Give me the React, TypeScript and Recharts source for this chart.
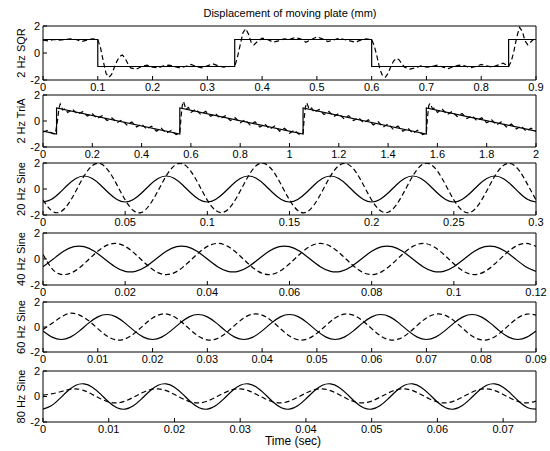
import React from 'react';
import { LineChart, Line, XAxis, YAxis } from 'recharts';

const FONT = '"Liberation Sans", Arial, Helvetica, sans-serif';

// ---------- tick labels ----------
const yTicks = [-2, 0, 2];
const sqrTicks = [0, 0.1, 0.2, 0.3, 0.4, 0.5, 0.6, 0.7, 0.8, 0.9];
const triTicks = [0, 0.2, 0.4, 0.6, 0.8, 1, 1.2, 1.4, 1.6, 1.8, 2];
const s20Ticks = [0, 0.05, 0.1, 0.15, 0.2, 0.25, 0.3];
const s40Ticks = [0, 0.02, 0.04, 0.06, 0.08, 0.1, 0.12];
const s60Ticks = [0, 0.01, 0.02, 0.03, 0.04, 0.05, 0.06, 0.07, 0.08, 0.09];
const s80Ticks = [0, 0.01, 0.02, 0.03, 0.04, 0.05, 0.06, 0.07];

// ---------- 2 Hz square ----------
const sqrRefT = [0, 0.1, 0.1, 0.35, 0.35, 0.6, 0.6, 0.85, 0.85, 0.9];
const sqrRef = [1, 1, -1, -1, 1, 1, -1, -1, 1, 1];
const sqrMeasT = [
  0, 0.01, 0.02, 0.03, 0.04, 0.05, 0.06, 0.07, 0.08, 0.09, 0.1,
  0.105, 0.11, 0.115, 0.12, 0.125, 0.13, 0.135, 0.14, 0.145, 0.15, 0.155,
  0.16, 0.17, 0.18, 0.19, 0.2, 0.21, 0.22, 0.23, 0.24, 0.25, 0.26, 0.27, 0.28, 0.29, 0.3, 0.31, 0.32, 0.33, 0.34, 0.35,
  0.355, 0.36, 0.365, 0.37, 0.375, 0.38, 0.385,
  0.39, 0.4, 0.41, 0.42, 0.43, 0.44, 0.45, 0.46, 0.47, 0.48, 0.49, 0.5, 0.51, 0.52, 0.53, 0.54, 0.55, 0.56, 0.57, 0.58, 0.59, 0.6,
  0.605, 0.61, 0.615, 0.62, 0.625, 0.63, 0.635, 0.64, 0.645, 0.65, 0.655,
  0.66, 0.67, 0.68, 0.69, 0.7, 0.71, 0.72, 0.73, 0.74, 0.75, 0.76, 0.77, 0.78, 0.79, 0.8, 0.81, 0.82, 0.83, 0.84, 0.85,
  0.855, 0.86, 0.865, 0.87, 0.875, 0.88, 0.885, 0.89, 0.895, 0.9,
];
const sqrMeas = [
  0.95, 0.9, 1.0, 0.95, 1.0, 1.05, 1.0, 0.85, 0.95, 1.05, 1.0,
  0.4, -0.6, -1.5, -1.8, -1.6, -1.1, -0.6, -0.25, -0.15, -0.4, -0.8,
  -1.1, -1.2, -1.0, -0.9, -1.05, -1.1, -0.95, -0.9, -1.0, -1.1, -1.0, -0.85, -1.0, -1.1, -0.95, -0.8, -0.95, -1.05, -1.0, -1.0,
  -0.3, 0.6, 1.5, 1.8, 1.4, 0.8, 0.6,
  0.8, 1.1, 1.0, 0.8, 0.9, 1.05, 1.0, 1.15, 1.05, 0.8, 1.0, 1.2, 1.05, 0.85, 0.95, 1.1, 1.0, 0.9, 0.8, 0.95, 1.05, 1.0,
  0.5, -0.3, -1.2, -1.7, -1.8, -1.5, -1.0, -0.6, -0.4, -0.5, -0.8,
  -1.05, -1.2, -1.1, -0.95, -1.05, -1.0, -0.9, -1.05, -1.15, -1.0, -0.9, -0.95, -1.1, -1.0, -0.85, -0.95, -1.05, -0.9, -0.75, -1.0,
  -0.6, 0.2, 1.2, 1.9, 1.6, 0.9, 0.6, 0.8, 1.0, 0.9,
];

// ---------- 2 Hz triangle (sawtooth) ----------
const triRefT = [0, 0.055, 0.055, 0.555, 0.555, 1.055, 1.055, 1.555, 1.555, 2];
const triRef = [-0.78, -1, 1, -1, 1, -1, 1, -1, 1, -0.78];
const triMeasT = [
  0, 0.02, 0.04, 0.05, 0.06, 0.065, 0.07, 0.08, 0.09,
  0.1, 0.12, 0.14, 0.16, 0.18, 0.2, 0.22, 0.24, 0.26, 0.28, 0.3, 0.32, 0.34, 0.36, 0.38, 0.4, 0.42, 0.44, 0.46, 0.48, 0.5, 0.52, 0.54,
  0.555, 0.56, 0.565, 0.57, 0.58, 0.59,
  0.6, 0.62, 0.64, 0.66, 0.68, 0.7, 0.72, 0.74, 0.76, 0.78, 0.8, 0.82, 0.84, 0.86, 0.88, 0.9, 0.92, 0.94, 0.96, 0.98, 1.0, 1.02, 1.04,
  1.055, 1.06, 1.065, 1.07, 1.08, 1.09,
  1.1, 1.12, 1.14, 1.16, 1.18, 1.2, 1.22, 1.24, 1.26, 1.28, 1.3, 1.32, 1.34, 1.36, 1.38, 1.4, 1.42, 1.44, 1.46, 1.48, 1.5, 1.52, 1.54,
  1.555, 1.56, 1.565, 1.57, 1.58, 1.59,
  1.6, 1.62, 1.64, 1.66, 1.68, 1.7, 1.72, 1.74, 1.76, 1.78, 1.8, 1.82, 1.84, 1.86, 1.88, 1.9, 1.92, 1.94, 1.96, 1.98, 2.0,
];
const triMeas = [
  -0.85, -0.72, -0.98, -1.0, 0.2, 1.0, 1.3, 0.85, 0.95,
  0.66, 0.9, 0.52, 0.72, 0.38, 0.56, 0.2, 0.4, 0.04, 0.24, -0.13, 0.08, -0.3, -0.07, -0.46, -0.24, -0.62, -0.4, -0.78, -0.56, -0.93, -0.72, -1.04,
  -0.95, 0.3, 1.2, 1.5, 0.9, 1.05,
  0.66, 0.9, 0.5, 0.74, 0.36, 0.57, 0.19, 0.41, 0.03, 0.25, -0.14, 0.09, -0.3, -0.06, -0.46, -0.23, -0.63, -0.39, -0.78, -0.56, -0.94, -0.71, -1.04,
  -0.95, 0.3, 1.1, 1.4, 0.9, 1.0,
  0.66, 0.89, 0.5, 0.73, 0.35, 0.57, 0.19, 0.41, 0.03, 0.25, -0.13, 0.09, -0.3, -0.06, -0.47, -0.23, -0.62, -0.39, -0.79, -0.55, -0.94, -0.71, -1.04,
  -0.95, 0.3, 1.2, 1.35, 0.95, 1.0,
  0.66, 0.9, 0.5, 0.73, 0.35, 0.57, 0.19, 0.41, 0.03, 0.25, -0.14, 0.09, -0.3, -0.06, -0.46, -0.23, -0.62, -0.39, -0.78, -0.56, -0.8,
];

// ---------- 20 Hz sine ----------
const s20T = [
  0, 0.005, 0.01, 0.015, 0.02, 0.025, 0.03, 0.035, 0.04, 0.045,
  0.05, 0.055, 0.06, 0.065, 0.07, 0.075, 0.08, 0.085, 0.09, 0.095,
  0.1, 0.105, 0.11, 0.115, 0.12, 0.125, 0.13, 0.135, 0.14, 0.145,
  0.15, 0.155, 0.16, 0.165, 0.17, 0.175, 0.18, 0.185, 0.19, 0.195,
  0.2, 0.205, 0.21, 0.215, 0.22, 0.225, 0.23, 0.235, 0.24, 0.245,
  0.25, 0.255, 0.26, 0.265, 0.27, 0.275, 0.28, 0.285, 0.29, 0.295, 0.3,
];
const s20Ref = [
  -1, -0.81, -0.31, 0.31, 0.81, 1, 0.81, 0.31, -0.31, -0.81,
  -1, -0.81, -0.31, 0.31, 0.81, 1, 0.81, 0.31, -0.31, -0.81,
  -1, -0.81, -0.31, 0.31, 0.81, 1, 0.81, 0.31, -0.31, -0.81,
  -1, -0.81, -0.31, 0.31, 0.81, 1, 0.81, 0.31, -0.31, -0.81,
  -1, -0.81, -0.31, 0.31, 0.81, 1, 0.81, 0.31, -0.31, -0.81,
  -1, -0.81, -0.31, 0.31, 0.81, 1, 0.81, 0.31, -0.31, -0.81, -1,
];
const s20Meas = [
  -0.84, -1.64, -1.79, -1.22, -0.16, 1.0, 1.8, 1.95, 1.38, 0.32,
  -0.84, -1.66, -1.8, -1.2, -0.14, 1.02, 1.8, 1.94, 1.36, 0.3,
  -0.86, -1.64, -1.78, -1.22, -0.16, 1.0, 1.82, 1.95, 1.38, 0.32,
  -0.84, -1.65, -1.8, -1.21, -0.15, 1.01, 1.8, 1.93, 1.37, 0.31,
  -0.85, -1.64, -1.79, -1.22, -0.16, 1.0, 1.81, 1.95, 1.38, 0.32,
  -0.84, -1.64, -1.8, -1.22, -0.15, 1.0, 1.8, 1.94, 1.38, 0.32, -0.84,
];

// ---------- 40 Hz sine ----------
const s40T = [
  0, 0.0025, 0.005, 0.0075, 0.01, 0.0125, 0.015, 0.0175, 0.02, 0.0225,
  0.025, 0.0275, 0.03, 0.0325, 0.035, 0.0375, 0.04, 0.0425, 0.045, 0.0475,
  0.05, 0.0525, 0.055, 0.0575, 0.06, 0.0625, 0.065, 0.0675, 0.07, 0.0725,
  0.075, 0.0775, 0.08, 0.0825, 0.085, 0.0875, 0.09, 0.0925, 0.095, 0.0975,
  0.1, 0.1025, 0.105, 0.1075, 0.11, 0.1125, 0.115, 0.1175, 0.12,
];
const s40Ref = [
  -0.59, 0, 0.59, 0.95, 0.95, 0.59, 0, -0.59, -0.95, -0.95,
  -0.59, 0, 0.59, 0.95, 0.95, 0.59, 0, -0.59, -0.95, -0.95,
  -0.59, 0, 0.59, 0.95, 0.95, 0.59, 0, -0.59, -0.95, -0.95,
  -0.59, 0, 0.59, 0.95, 0.95, 0.59, 0, -0.59, -0.95, -0.95,
  -0.59, 0, 0.59, 0.95, 0.95, 0.59, 0, -0.59, -0.95,
];
const s40Meas = [
  0.35, -0.85, -1.2, -0.97, -0.37, 0.37, 0.97, 1.2, 0.97, 0.37,
  -0.37, -0.97, -1.2, -0.97, -0.37, 0.37, 0.97, 1.2, 0.97, 0.37,
  -0.37, -0.97, -1.2, -0.97, -0.37, 0.37, 0.97, 1.2, 0.97, 0.37,
  -0.37, -0.97, -1.2, -0.97, -0.37, 0.37, 0.97, 1.2, 0.97, 0.37,
  -0.37, -0.97, -1.2, -0.97, -0.37, 0.37, 0.97, 1.2, 0.97,
];

// ---------- 60 Hz sine ----------
const s60T = [
  0, 0.00167, 0.00333, 0.005, 0.00667, 0.00833, 0.01, 0.01167, 0.01333, 0.015,
  0.01667, 0.01833, 0.02, 0.02167, 0.02333, 0.025, 0.02667, 0.02833, 0.03, 0.03167,
  0.03333, 0.035, 0.03667, 0.03833, 0.04, 0.04167, 0.04333, 0.045, 0.04667, 0.04833,
  0.05, 0.05167, 0.05333, 0.055, 0.05667, 0.05833, 0.06, 0.06167, 0.06333, 0.065,
  0.06667, 0.06833, 0.07, 0.07167, 0.07333, 0.075, 0.07667, 0.07833, 0.08, 0.08167,
  0.08333, 0.085, 0.08667, 0.08833, 0.09,
];
const s60Ref = [
  -0.31, -0.81, -1, -0.81, -0.31, 0.31, 0.81, 1, 0.81, 0.31,
  -0.31, -0.81, -1, -0.81, -0.31, 0.31, 0.81, 1, 0.81, 0.31,
  -0.31, -0.81, -1, -0.81, -0.31, 0.31, 0.81, 1, 0.81, 0.31,
  -0.31, -0.81, -1, -0.81, -0.31, 0.31, 0.81, 1, 0.81, 0.31,
  -0.31, -0.81, -1, -0.81, -0.31, 0.31, 0.81, 1, 0.81, 0.31,
  -0.31, -0.81, -1, -0.81, -0.31,
];
const s60Meas = [
  -0.2, 0.3, 0.8, 1.1, 0.95, 0.51, -0.13, -0.72, -1.03, -0.95,
  -0.51, 0.13, 0.72, 1.03, 0.95, 0.51, -0.13, -0.72, -1.03, -0.95,
  -0.51, 0.13, 0.72, 1.03, 0.95, 0.51, -0.13, -0.72, -1.03, -0.95,
  -0.51, 0.13, 0.72, 1.03, 0.95, 0.51, -0.13, -0.72, -1.03, -0.95,
  -0.51, 0.13, 0.72, 1.03, 0.95, 0.51, -0.13, -0.72, -1.03, -0.95,
  -0.51, 0.13, 0.72, 1.03, 0.95,
];

// ---------- 80 Hz sine ----------
const s80T = [
  0, 0.00125, 0.0025, 0.00375, 0.005, 0.00625, 0.0075, 0.00875, 0.01, 0.01125,
  0.0125, 0.01375, 0.015, 0.01625, 0.0175, 0.01875, 0.02, 0.02125, 0.0225, 0.02375,
  0.025, 0.02625, 0.0275, 0.02875, 0.03, 0.03125, 0.0325, 0.03375, 0.035, 0.03625,
  0.0375, 0.03875, 0.04, 0.04125, 0.0425, 0.04375, 0.045, 0.04625, 0.0475, 0.04875,
  0.05, 0.05125, 0.0525, 0.05375, 0.055, 0.05625, 0.0575, 0.05875, 0.06, 0.06125,
  0.0625, 0.06375, 0.065, 0.06625, 0.0675, 0.06875, 0.07, 0.07125, 0.0725, 0.07375, 0.075,
];
const s80Ref = [
  -0.99, -0.73, -0.19, 0.43, 0.88, 0.99, 0.73, 0.19, -0.43, -0.88,
  -0.99, -0.73, -0.19, 0.43, 0.88, 0.99, 0.73, 0.19, -0.43, -0.88,
  -0.99, -0.73, -0.19, 0.43, 0.88, 0.99, 0.73, 0.19, -0.43, -0.88,
  -0.99, -0.73, -0.19, 0.43, 0.88, 0.99, 0.73, 0.19, -0.43, -0.88,
  -0.99, -0.73, -0.19, 0.43, 0.88, 0.99, 0.73, 0.19, -0.43, -0.88,
  -0.99, -0.73, -0.19, 0.43, 0.88, 0.99, 0.73, 0.19, -0.43, -0.88, -0.99,
];
const s80Meas = [
  0.1, 0.2, 0.35, 0.53, 0.6, 0.46, 0.16, -0.17, -0.43, -0.5,
  -0.36, -0.06, 0.27, 0.53, 0.6, 0.46, 0.16, -0.17, -0.43, -0.5,
  -0.36, -0.06, 0.27, 0.53, 0.6, 0.46, 0.16, -0.17, -0.43, -0.5,
  -0.36, -0.06, 0.27, 0.53, 0.6, 0.46, 0.16, -0.17, -0.43, -0.5,
  -0.36, -0.06, 0.27, 0.53, 0.6, 0.46, 0.16, -0.17, -0.43, -0.5,
  -0.36, -0.06, 0.27, 0.53, 0.6, 0.46, 0.16, -0.17, -0.43, -0.5, -0.36,
];

const zip = (ts: number[], vs: number[]) => ts.map((t, i) => ({ t, v: vs[i] }));

const MT = 10;
const XH = 18;
const W = 550;
const YW = 43;
const MR = 14;

type PanelProps = {
  top: number;
  h: number;
  xMax: number;
  xTicks: number[];
  refPts: { t: number; v: number }[];
  measPts: { t: number; v: number }[];
  smooth: boolean;
};

function Panel({ top, h, xMax, xTicks, refPts, measPts, smooth }: PanelProps) {
  const H = MT + h + XH;
  const tickStyle = { fill: '#000', fontSize: 11, fontFamily: FONT };
  const curve = smooth ? 'natural' : 'linear';
  return (
    <div style={{ position: 'absolute', left: 0, top: top - MT, width: W, height: H }}>
      <LineChart width={W} height={H} margin={{ top: MT, right: MR, bottom: 0, left: 0 }}>
        <XAxis
          xAxisId="b"
          type="number"
          dataKey="t"
          domain={[0, xMax]}
          ticks={xTicks}
          interval={0}
          allowDataOverflow
          height={XH}
          tickSize={-4}
          tickMargin={7}
          stroke="#000"
          tick={tickStyle}
        />
        <XAxis
          xAxisId="top"
          orientation="top"
          mirror
          type="number"
          dataKey="t"
          domain={[0, xMax]}
          ticks={xTicks}
          interval={0}
          allowDataOverflow
          height={1}
          tickSize={4}
          tick={false}
          stroke="#000"
        />
        <YAxis
          yAxisId="l"
          type="number"
          domain={[-2, 2]}
          ticks={yTicks}
          interval={0}
          allowDataOverflow
          width={YW}
          tickSize={-4}
          tickMargin={7}
          stroke="#000"
          tick={tickStyle}
        />
        <YAxis
          yAxisId="r"
          orientation="right"
          mirror
          type="number"
          domain={[-2, 2]}
          ticks={yTicks}
          interval={0}
          allowDataOverflow
          width={1}
          tickSize={4}
          tick={false}
          stroke="#000"
        />
        <Line
          xAxisId="b"
          yAxisId="l"
          data={refPts}
          dataKey="v"
          type={curve}
          stroke="#000"
          strokeWidth={1.2}
          dot={false}
          isAnimationActive={false}
        />
        <Line
          xAxisId="b"
          yAxisId="l"
          data={measPts}
          dataKey="v"
          type={curve}
          stroke="#000"
          strokeWidth={1.2}
          strokeDasharray="5 3"
          dot={false}
          isAnimationActive={false}
        />
      </LineChart>
    </div>
  );
}

const panels = [
  { label: '2 Hz SQR', top: 26, h: 54, xMax: 0.9, xTicks: sqrTicks, refPts: zip(sqrRefT, sqrRef), measPts: zip(sqrMeasT, sqrMeas), smooth: false },
  { label: '2 Hz TriA', top: 95, h: 52, xMax: 2, xTicks: triTicks, refPts: zip(triRefT, triRef), measPts: zip(triMeasT, triMeas), smooth: false },
  { label: '20 Hz Sine', top: 163, h: 52, xMax: 0.3, xTicks: s20Ticks, refPts: zip(s20T, s20Ref), measPts: zip(s20T, s20Meas), smooth: true },
  { label: '40 Hz Sine', top: 233, h: 52, xMax: 0.12, xTicks: s40Ticks, refPts: zip(s40T, s40Ref), measPts: zip(s40T, s40Meas), smooth: true },
  { label: '60 Hz Sine', top: 302, h: 50, xMax: 0.09, xTicks: s60Ticks, refPts: zip(s60T, s60Ref), measPts: zip(s60T, s60Meas), smooth: true },
  { label: '80 Hz Sine', top: 371, h: 51, xMax: 0.075, xTicks: s80Ticks, refPts: zip(s80T, s80Ref), measPts: zip(s80T, s80Meas), smooth: true },
];

export default function App() {
  return (
    <div style={{ position: 'absolute', left: 0, top: 0, width: 550, height: 451, background: '#fff', overflow: 'hidden' }}>
      {panels.map((p) => (
        <Panel key={p.label} {...p} />
      ))}
      <svg width={550} height={451} style={{ position: 'absolute', left: 0, top: 0, pointerEvents: 'none' }}>
        <text x={290} y={17} textAnchor="middle" fontSize={11} fontFamily={FONT} fill="#000">
          Displacement of moving plate (mm)
        </text>
        {panels.map((p) => (
          <text
            key={p.label}
            transform={`translate(25, ${p.top + p.h / 2}) rotate(-90)`}
            textAnchor="middle"
            fontSize={11}
            fontFamily={FONT}
            fill="#000"
          >
            {p.label}
          </text>
        ))}
        <text x={293} y={445} textAnchor="middle" fontSize={12} fontFamily={FONT} fill="#000">
          Time (sec)
        </text>
      </svg>
    </div>
  );
}
